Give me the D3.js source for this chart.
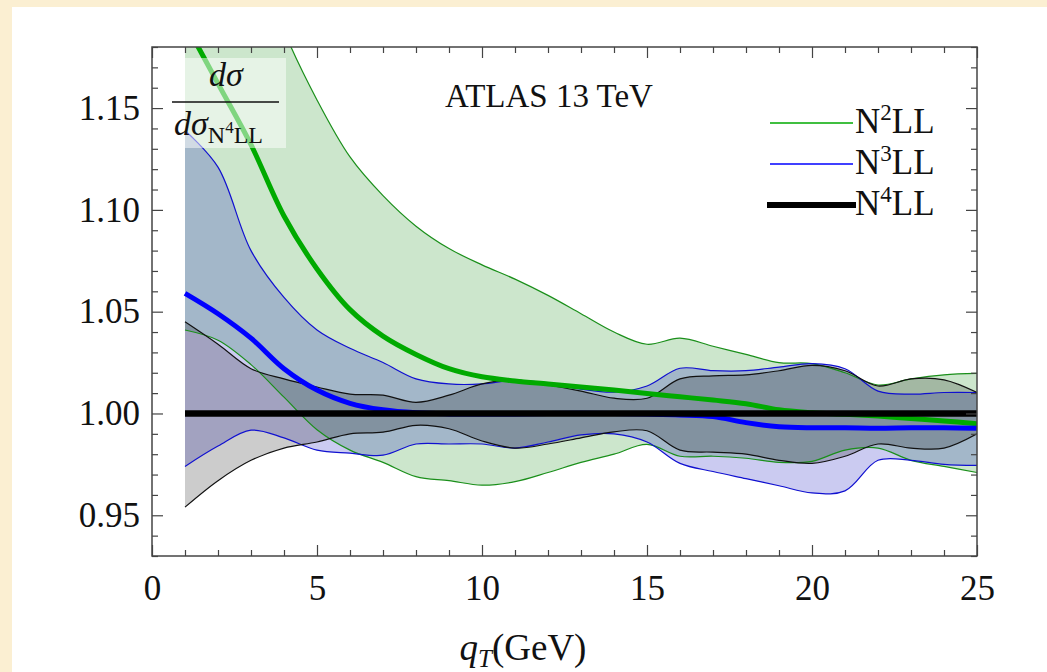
<!DOCTYPE html>
<html>
<head>
<meta charset="utf-8">
<script src="https://cdn.jsdelivr.net/npm/d3@7"></script>
<style>
body { margin: 0; background: #fbefd2; }
svg { display: block; }
text { font-family: "Liberation Serif", "DejaVu Serif", serif; fill: #111; }
.tick line { stroke: #444; stroke-width: 1.2; }
</style>
</head>
<body>
<svg id="chart" width="1047" height="672"></svg>
<script>
// transverse momentum grid (GeV)
var qT = [1, 2, 3, 4, 5, 6, 7, 8, 9, 10, 11, 12, 13, 14, 15, 16, 17, 18, 19, 20, 21, 22, 23, 24, 25];

// N2LL ratio: central, upper, lower
var n2ll = [1.192, 1.162, 1.132, 1.097, 1.071, 1.051, 1.038, 1.029, 1.022, 1.018, 1.016, 1.0145, 1.013,
    1.0115, 1.0098, 1.0082, 1.0066, 1.0048, 1.0018, 1.0004, 0.9996, 0.9987, 0.9975, 0.9963, 0.995];
var n2llHi = [1.36, 1.29, 1.235, 1.188, 1.154, 1.126, 1.107, 1.092, 1.081, 1.073, 1.066, 1.058, 1.049,
    1.040, 1.034, 1.037, 1.033, 1.029, 1.025, 1.0245, 1.020, 1.014, 1.017, 1.019, 1.0197];
var n2llLo = [1.041, 1.036, 1.024, 1.008, 0.992, 0.982, 0.976, 0.969, 0.967, 0.9648, 0.9665, 0.971, 0.976,
    0.980, 0.9848, 0.979, 0.979, 0.978, 0.976, 0.9765, 0.982, 0.983, 0.977, 0.974, 0.971];

// N3LL ratio
var n3ll = [1.059, 1.049, 1.037, 1.022, 1.0115, 1.005, 1.0018, 1.0003, 0.9998, 0.9997, 0.9998, 1.0, 1.0001,
    1.0, 0.9997, 0.9993, 0.9985, 0.9955, 0.9935, 0.993, 0.993, 0.9928, 0.993, 0.993, 0.9927];
var n3llHi = [1.139, 1.121, 1.080, 1.057, 1.041, 1.032, 1.025, 1.017, 1.0145, 1.0145, 1.0163, 1.015, 1.012,
    1.0105, 1.0135, 1.0222, 1.021, 1.021, 1.0228, 1.0245, 1.022, 1.011, 1.0095, 1.0103, 1.0103];
var n3llLo = [0.974, 0.984, 0.9918, 0.988, 0.982, 0.9805, 0.9795, 0.985, 0.985, 0.985, 0.983, 0.986, 0.9895,
    0.990, 0.986, 0.9755, 0.9715, 0.968, 0.9645, 0.961, 0.962, 0.977, 0.977, 0.975, 0.9745];

// N4LL band (central is 1 by construction)
var n4ll = [1, 1, 1, 1, 1, 1, 1, 1, 1, 1, 1, 1, 1, 1, 1, 1, 1, 1, 1, 1, 1, 1, 1, 1, 1];
var n4llHi = [1.045, 1.034, 1.022, 1.017, 1.013, 1.0095, 1.009, 1.0055, 1.009, 1.0145, 1.0165, 1.014, 1.011,
    1.0075, 1.0075, 1.017, 1.0185, 1.019, 1.021, 1.0236, 1.021, 1.0135, 1.017, 1.0165, 1.0103];
var n4llLo = [0.954, 0.967, 0.977, 0.983, 0.986, 0.990, 0.9908, 0.9942, 0.9925, 0.9865, 0.983, 0.985, 0.988,
    0.991, 0.9915, 0.982, 0.981, 0.980, 0.977, 0.9755, 0.979, 0.985, 0.983, 0.983, 0.990];

var yTicks = [0.95, 1.00, 1.05, 1.10, 1.15];
var xTicks = [0, 5, 10, 15, 20, 25];
var legendNames = ["2", "3", "4"];

var width = 1047;
var height = 672;
var plotLeft = 152, plotRight = 977, plotTop = 47, plotBottom = 556;

var svg = d3.select("#chart");

// page background: cream border with white panel
svg.append("rect").attr("width", width).attr("height", height).attr("fill", "#fbefd2");
svg.append("rect").attr("x", 12).attr("y", 7).attr("width", width - 12).attr("height", height - 7)
    .attr("fill", "#ffffff");

var x = d3.scaleLinear().domain([0, 25]).range([plotLeft, plotRight]);
var y = d3.scaleLinear().domain([0.93, 1.18]).range([plotBottom, plotTop]);

svg.append("clipPath").attr("id", "plotclip")
    .append("rect")
    .attr("x", plotLeft).attr("y", plotTop)
    .attr("width", plotRight - plotLeft).attr("height", plotBottom - plotTop);

var plot = svg.append("g").attr("clip-path", "url(#plotclip)");

var curve = d3.curveCatmullRom.alpha(0.5);

function bandData(hi, lo, mid) {
    return qT.map(function (q, i) {
        return {q: q, hi: hi[i], lo: lo[i], mid: mid[i]};
    });
}

var bands = [
    {rows: bandData(n2llHi, n2llLo, n2ll), fill: "rgb(0,128,0)", op: 0.2, edge: "#1a8f1a", line: "#00aa00", lw: 5},
    {rows: bandData(n3llHi, n3llLo, n3ll), fill: "rgb(20,20,190)", op: 0.22, edge: "#1010d0", line: "#0000ff", lw: 5},
    {rows: bandData(n4llHi, n4llLo, n4ll), fill: "rgb(0,0,0)", op: 0.2, edge: "#111111", line: "#000000", lw: 6.5}
];

var area = d3.area()
    .x(function (d) { return x(d.q); })
    .y0(function (d) { return y(d.lo); })
    .y1(function (d) { return y(d.hi); })
    .curve(curve);

function lineOf(key) {
    return d3.line()
        .x(function (d) { return x(d.q); })
        .y(function (d) { return y(d[key]); })
        .curve(curve);
}

//Filled bands first, then their edges
bands.forEach(function (b) {
    plot.append("path")
        .attr("d", area(b.rows))
        .attr("fill", b.fill)
        .attr("fill-opacity", b.op)
        .attr("stroke", "none");
});
bands.forEach(function (b) {
    ["hi", "lo"].forEach(function (k) {
        plot.append("path")
            .attr("d", lineOf(k)(b.rows))
            .attr("fill", "none")
            .attr("stroke", b.edge)
            .attr("stroke-width", 1.2);
    });
});
//Central curves on top
bands.forEach(function (b) {
    plot.append("path")
        .attr("d", lineOf("mid")(b.rows))
        .attr("fill", "none")
        .attr("stroke", b.line)
        .attr("stroke-width", b.lw);
});

// axes: ticks point inward on all four sides
function noLabel() { return ""; }
var minorX = d3.range(0, 26, 1).filter(function (v) { return v % 5 != 0; });
var minorY = d3.range(93, 119, 1).map(function (v) { return v / 100; })
    .filter(function (v) { return yTicks.indexOf(+v.toFixed(2)) < 0; });

svg.append("g").attr("transform", "translate(0," + plotBottom + ")")
    .call(d3.axisBottom(x).tickValues(xTicks).tickSizeInner(-11).tickSizeOuter(0).tickPadding(19))
    .call(function (g) { g.selectAll("text").style("font-size", "35px").attr("fill", "#111"); });
svg.append("g").attr("transform", "translate(0," + plotBottom + ")")
    .call(d3.axisBottom(x).tickValues(minorX).tickSizeInner(-6).tickSizeOuter(0).tickFormat(noLabel));
svg.append("g").attr("transform", "translate(0," + plotTop + ")")
    .call(d3.axisTop(x).tickValues(xTicks).tickSizeInner(-11).tickSizeOuter(0).tickFormat(noLabel));
svg.append("g").attr("transform", "translate(0," + plotTop + ")")
    .call(d3.axisTop(x).tickValues(minorX).tickSizeInner(-6).tickSizeOuter(0).tickFormat(noLabel));

svg.append("g").attr("transform", "translate(" + plotLeft + ",0)")
    .call(d3.axisLeft(y).tickValues(yTicks).tickFormat(d3.format(".2f"))
        .tickSizeInner(-11).tickSizeOuter(0).tickPadding(12))
    .call(function (g) { g.selectAll("text").style("font-size", "35px").attr("fill", "#111"); });
svg.append("g").attr("transform", "translate(" + plotLeft + ",0)")
    .call(d3.axisLeft(y).tickValues(minorY).tickSizeInner(-6).tickSizeOuter(0).tickFormat(noLabel));
svg.append("g").attr("transform", "translate(" + plotRight + ",0)")
    .call(d3.axisRight(y).tickValues(yTicks).tickSizeInner(-11).tickSizeOuter(0).tickFormat(noLabel));
svg.append("g").attr("transform", "translate(" + plotRight + ",0)")
    .call(d3.axisRight(y).tickValues(minorY).tickSizeInner(-6).tickSizeOuter(0).tickFormat(noLabel));

svg.selectAll(".domain").remove();
svg.selectAll(".tick text").attr("font-family", "Liberation Serif, serif");

// frame
svg.append("rect")
    .attr("x", plotLeft).attr("y", plotTop)
    .attr("width", plotRight - plotLeft).attr("height", plotBottom - plotTop)
    .attr("fill", "none")
    .attr("stroke", "#444")
    .attr("stroke-width", 1.5);

// ratio label with translucent box
svg.append("rect")
    .attr("x", 183).attr("y", 58).attr("width", 103).attr("height", 90)
    .attr("fill", "#ffffff").attr("fill-opacity", 0.5);
svg.append("text")
    .attr("x", 226).attr("y", 86)
    .attr("text-anchor", "middle")
    .style("font-size", "34px").style("font-style", "italic")
    .text("dσ");
svg.append("line")
    .attr("x1", 172).attr("x2", 279).attr("y1", 102).attr("y2", 102)
    .attr("stroke", "#111").attr("stroke-width", 1.3);
var den = svg.append("text")
    .attr("x", 174).attr("y", 135)
    .style("font-size", "34px");
den.append("tspan").style("font-style", "italic").text("dσ");
den.append("tspan").attr("dy", 8).style("font-size", "24px").text("N");
den.append("tspan").attr("dy", -10).style("font-size", "17px").text("4");
den.append("tspan").attr("dy", 10).style("font-size", "24px").text("LL");

// title
svg.append("text")
    .attr("x", 445).attr("y", 107)
    .style("font-size", "33px")
    .text("ATLAS 13 TeV");

// legend
var legendY = [123, 164, 205];
var legendColors = ["#00aa00", "#0000ff", "#000000"];
var legendWidths = [1.5, 1.5, 6];
legendNames.forEach(function (n, i) {
    svg.append("line")
        .attr("x1", i == 2 ? 767 : 770).attr("x2", i == 2 ? 856 : 853)
        .attr("y1", legendY[i]).attr("y2", legendY[i])
        .attr("stroke", legendColors[i])
        .attr("stroke-width", legendWidths[i]);
    var t = svg.append("text")
        .attr("x", 855).attr("y", legendY[i] + 10)
        .style("font-size", "35px");
    t.append("tspan").text("N");
    t.append("tspan").attr("dy", -13).style("font-size", "23px").text(n);
    t.append("tspan").attr("dy", 13).text("LL");
});

// x axis label
var xl = svg.append("text")
    .attr("x", 523).attr("y", 660)
    .attr("text-anchor", "middle")
    .style("font-size", "37px");
xl.append("tspan").style("font-style", "italic").text("q");
xl.append("tspan").attr("dy", 7).style("font-size", "25px").style("font-style", "italic").text("T");
xl.append("tspan").attr("dy", -7).text("(GeV)");
</script>
</body>
</html>
